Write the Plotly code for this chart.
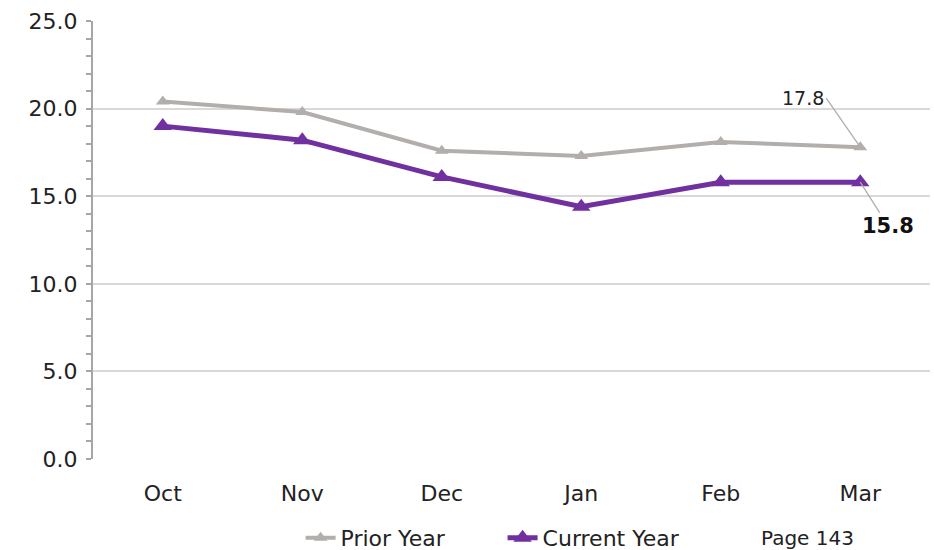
import plotly.graph_objects as go

months = ["Oct", "Nov", "Dec", "Jan", "Feb", "Mar"]
prior_year = [20.4, 19.8, 17.6, 17.3, 18.1, 17.8]
current_year = [19.0, 18.2, 16.1, 14.4, 15.8, 15.8]
y_ticks = [0, 5, 10, 15, 20, 25]

FONT = "DejaVu Sans"
GRAY = "#b1aeac"
PURPLE = "#7030a0"
AXIS = "#a6a6a6"

fig = go.Figure()
fig.add_trace(go.Scatter(
    x=months, y=prior_year, name="Prior Year", mode="lines+markers",
    line=dict(color=GRAY, width=4),
    marker=dict(symbol="triangle-up", size=12, color=GRAY),
))
fig.add_trace(go.Scatter(
    x=months, y=current_year, name="Current Year", mode="lines+markers",
    line=dict(color=PURPLE, width=5),
    marker=dict(symbol="triangle-up", size=16, color=PURPLE),
))

# value labels for the latest month
fig.add_annotation(
    x=months[-1], y=prior_year[-1], text=f"{prior_year[-1]:.1f}",
    showarrow=True, arrowhead=0, arrowcolor=GRAY, arrowwidth=1.3,
    ax=-34, ay=-49, xanchor="right", yanchor="middle",
    font=dict(family=FONT, size=19, color="#222222"),
)
fig.add_annotation(
    x=months[-1], y=current_year[-1], text=f"<b>{current_year[-1]:.1f}</b>",
    showarrow=True, arrowhead=0, arrowcolor=GRAY, arrowwidth=1.3,
    ax=28, ay=44, xanchor="center", yanchor="middle",
    font=dict(family=FONT, size=21, color="#111111"),
)
fig.add_annotation(
    xref="paper", yref="paper", x=0.854, y=-0.180, text="Page 143",
    showarrow=False, xanchor="center", yanchor="middle",
    font=dict(family=FONT, size=20, color="#222222"),
)

fig.update_layout(
    width=934, height=550,
    margin=dict(l=93, r=4, t=21, b=91),
    paper_bgcolor="white", plot_bgcolor="white",
    font=dict(family=FONT, size=22, color="#222222"),
    showlegend=True,
    legend=dict(
        orientation="h", x=0.248, y=0.022, yref="container",
        xanchor="left", yanchor="middle",
        font=dict(family=FONT, size=22, color="#222222"),
        entrywidth=157, entrywidthmode="pixels", tracegroupgap=0,
    ),
    xaxis=dict(
        type="category", range=[-0.5, 5.5], showgrid=False, zeroline=False,
        showline=False, ticks="", tickfont=dict(size=22), ticklabelstandoff=19,
    ),
    yaxis=dict(
        range=[0, 25], tickvals=y_ticks, ticktext=[f"{v:.1f}" for v in y_ticks],
        showgrid=True, gridcolor="#d9d9d9", gridwidth=2, zeroline=False,
        showline=True, linecolor=AXIS, linewidth=2,
        ticks="outside", ticklen=5, tickcolor=AXIS, tickwidth=2,
        minor=dict(dtick=1, ticks="outside", ticklen=5, tickcolor=AXIS, tickwidth=2, showgrid=False),
        tickfont=dict(size=22), ticklabelstandoff=4,
    ),
    yaxis2=dict(
        overlaying="y", side="left", range=[0, 25], tickvals=y_ticks,
        showticklabels=False, showgrid=False, zeroline=False, showline=False,
        ticks="inside", ticklen=6, tickcolor=AXIS, tickwidth=2,
        minor=dict(dtick=1, ticks="inside", ticklen=6, tickcolor=AXIS, tickwidth=2, showgrid=False),
    ),
)

fig.write_html("out.html")
